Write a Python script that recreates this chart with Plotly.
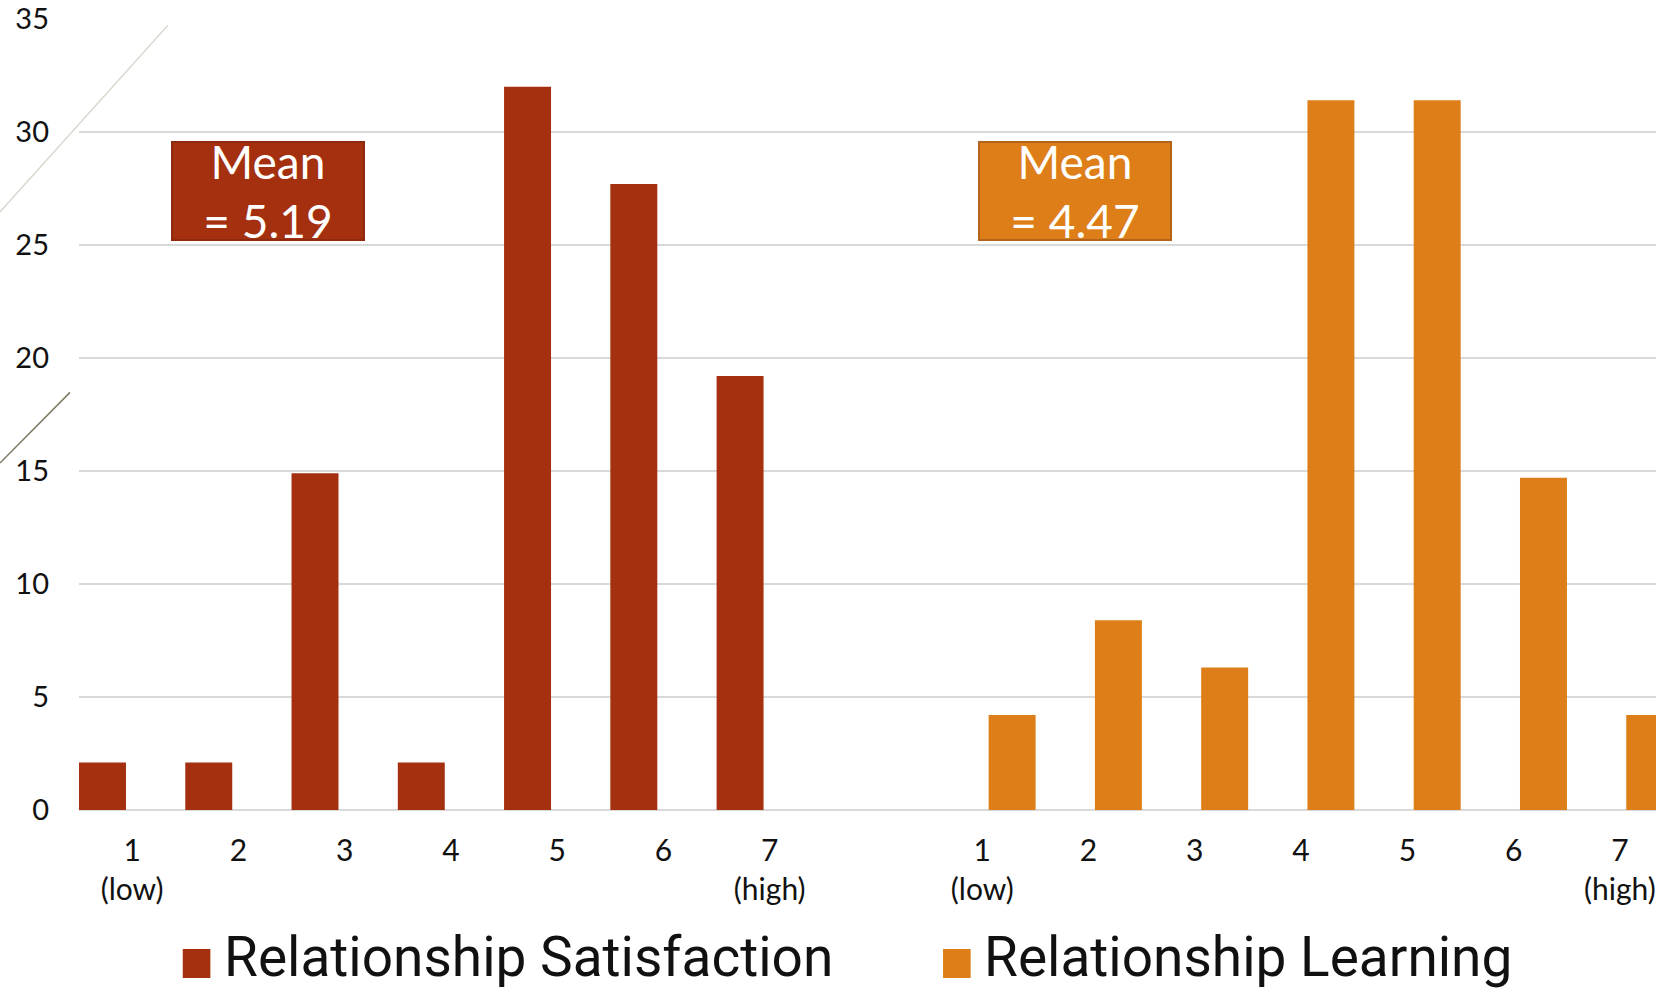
import plotly.graph_objects as go

# ---- data ----
levels = ["1", "2", "3", "4", "5", "6", "7"]
level_notes = {"1": "(low)", "7": "(high)"}
series_names = ["Relationship Satisfaction", "Relationship Learning"]
satisfaction = [2.1, 2.1, 14.9, 2.1, 32.0, 27.7, 19.2]
learning = [4.2, 8.4, 6.3, 31.4, 31.4, 14.7, 4.2]
mean_labels = ["Mean<br>= 5.19", "Mean<br>= 4.47"]
y_ticks = [0, 5, 10, 15, 20, 25, 30, 35]

# ---- styles ----
SAT_COLOR = "#A5300F"
LEARN_COLOR = "#DE7E18"
FONT = "Lato"
LEGEND_FONT = "Roboto"
TEXT_COLOR = "#111111"
GRID = "#D9D9D9"

n = len(levels)
sat_x = list(range(n))
learn_x = [i + n + 1 for i in range(n)]

def tick_text(lv):
    return lv + ("<br>" + level_notes[lv] if lv in level_notes else "")

tickvals = sat_x + learn_x
ticktext = [tick_text(lv) for lv in levels] * 2

fig = go.Figure()
fig.add_trace(go.Bar(
    x=sat_x, y=satisfaction, name=series_names[0],
    marker=dict(color=SAT_COLOR, line=dict(width=0)),
    offset=-0.5, width=0.442, showlegend=False,
))
fig.add_trace(go.Bar(
    x=learn_x, y=learning, name=series_names[1],
    marker=dict(color=LEARN_COLOR, line=dict(width=0)),
    offset=0.06, width=0.442, showlegend=False,
))

# Mean boxes
box_specs = [
    (sat_x[1] + 0.28, SAT_COLOR, "#8E2A0D"),
    (learn_x[0] + 0.87, LEARN_COLOR, "#B2651A"),
]
for (bx, fill, border), txt in zip(box_specs, mean_labels):
    fig.add_annotation(
        x=bx, y=27.4, xref="x", yref="y", text=txt, showarrow=False,
        font=dict(family=FONT, size=46, color="white"),
        bgcolor=fill, bordercolor=border, borderwidth=2, borderpad=0,
        width=190, height=96, align="center", valign="middle",
    )

# Manual legend (large square swatches)
legend_items = [
    (0.0658, SAT_COLOR, series_names[0]),
    (0.5479, LEARN_COLOR, series_names[1]),
]
for lx, col, name in legend_items:
    fig.add_shape(type="rect", xref="paper", yref="paper",
                  x0=lx, x1=lx + 0.0175, y0=-0.1757, y1=-0.2124,
                  fillcolor=col, line=dict(width=0))
    fig.add_annotation(x=lx + 0.0250, y=-0.1858, xref="paper", yref="paper",
                       text=name, showarrow=False, xanchor="left", yanchor="middle",
                       font=dict(family=LEGEND_FONT, size=55, color=TEXT_COLOR))

# Decorative slide lines on the left
fig.add_shape(type="line", xref="paper", yref="paper",
              x0=-0.0501, y0=0.756, x1=0.0564, y1=0.992,
              line=dict(color="#DCD9CF", width=1.5), layer="below")
fig.add_shape(type="line", xref="paper", yref="paper",
              x0=-0.0501, y0=0.4387, x1=-0.0057, y1=0.528,
              line=dict(color="#7F7A63", width=1.5), layer="below")

fig.update_layout(
    width=1656, height=994,
    margin=dict(l=79, r=0, t=19, b=184),
    paper_bgcolor="white", plot_bgcolor="white",
    barmode="overlay",
    font=dict(family=FONT, color=TEXT_COLOR, size=29),
    showlegend=False,
)
fig.update_xaxes(
    range=[-0.5, 14.34], tickvals=tickvals, ticktext=ticktext,
    showgrid=False, zeroline=False, showline=False, ticks="",
    tickfont=dict(family=FONT, size=30, color=TEXT_COLOR),
    ticklabelstandoff=20,
)
fig.update_yaxes(
    range=[0, 35], tickvals=y_ticks,
    showgrid=True, gridcolor=GRID, gridwidth=2,
    zeroline=True, zerolinecolor=GRID, zerolinewidth=2,
    showline=False, ticks="",
    tickfont=dict(family=FONT, size=29, color=TEXT_COLOR),
    ticklabelstandoff=29,
)

fig.write_html("out.html")
